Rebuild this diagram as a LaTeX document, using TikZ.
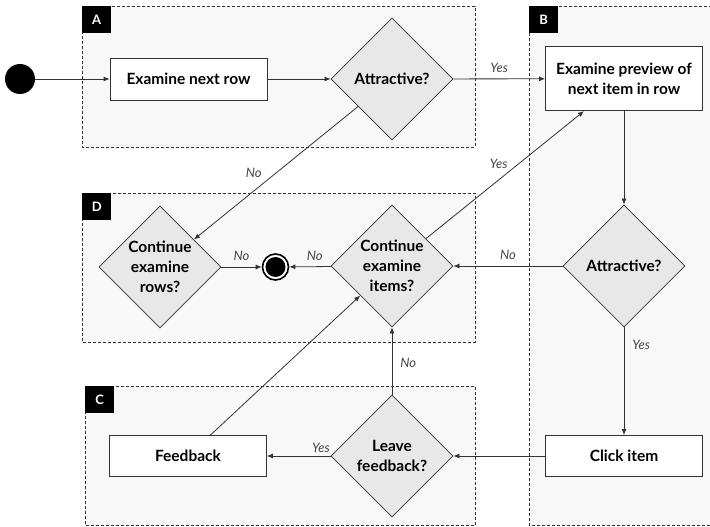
\documentclass[tikz,border=0pt]{standalone}
\usepackage{fontspec}
\setmainfont{Lato}
\usetikzlibrary{shapes.geometric,arrows.meta}
\definecolor{grpfill}{HTML}{F8F8F8}
\definecolor{diafill}{HTML}{E8E8E8}
\definecolor{linecol}{HTML}{333333}
\definecolor{lblcol}{HTML}{444444}
\tikzset{
  grp/.style={draw=linecol, dashed, dash pattern=on 3pt off 2pt, fill=grpfill, line width=0.7pt},
  tag/.style={fill=black, text=white, font=\bfseries\fontsize{13}{14}\selectfont, minimum width=29pt, minimum height=27pt, inner sep=0pt, anchor=north west},
  act/.style={draw=linecol, fill=white, line width=0.8pt, font=\bfseries\fontsize{15.5}{20}\selectfont, align=center, minimum width=157pt, inner sep=0pt},
  dia/.style={diamond, aspect=1, draw=linecol, fill=diafill, line width=0.8pt, minimum width=122pt, minimum height=122pt, inner sep=0pt},
  dtext/.style={font=\bfseries\fontsize{15.5}{20}\selectfont, align=center, inner sep=0pt},
  flow/.style={draw=linecol, line width=0.8pt, -{Latex[length=6pt,width=5pt]}},
  elab/.style={font=\itshape\fontsize{13}{14}\selectfont, text=lblcol, inner sep=0pt}
}
\begin{document}
\begin{tikzpicture}[x=1pt,y=-1pt]
\useasboundingbox (0,0) rectangle (710,527);
% groups
\draw[grp] (82,6) rectangle (475,147);
\node[tag] (tA) at (82,6) {A};
\draw[grp] (529,6) -- (712,6) -- (712,525.5) -- (529,525.5) -- cycle;
\node[tag] (tB) at (529,6) {B};
\draw[grp] (82,193) rectangle (475,342);
\node[tag] (tD) at (82,193) {D};
\draw[grp] (85,386) rectangle (475,525.5);
\node[tag] (tC) at (85,386) {C};
% nodes
\node[circle, fill=black, minimum size=30pt, inner sep=0pt] (start) at (20,79) {};
\node[act, minimum height=42pt] (exrow) at (188.5,79) {Examine next row};
\node[dia, label={[dtext]center:Attractive?}] (attrA) at (392,79) {};
\node[act, minimum height=64pt] (prev) at (624,78.7) {Examine preview of\\next item in row};
\node[dia, label={[dtext]center:Attractive?}] (attrB) at (624,266) {};
\node[act, minimum height=41pt] (click) at (624,456) {Click item};
\node[dia, label={[dtext]center:Continue\\examine\\rows?}] (rows) at (160,267) {};
\node[circle, draw=black, line width=1.6pt, fill=white, minimum size=26pt, inner sep=0pt] (end) at (275.5,267) {};
\fill[black] (end.center) circle (10pt);
\node[dia, label={[dtext]center:Continue\\examine\\items?}] (items) at (392,266) {};
\node[act, minimum height=41pt] (fb) at (188,456) {Feedback};
\node[dia, label={[dtext]center:Leave\\feedback?}] (leave) at (392,456) {};
% edges
\draw[flow] (start) -- (exrow);
\draw[flow] (exrow) -- (attrA);
\draw[flow] (attrA) -- node[elab, above=6pt, pos=0.5] {Yes} (prev);
\draw[flow] (attrA) -- node[elab, pos=0.5, left=14pt] {No} (rows);
\draw[flow] (items) -- node[elab, pos=0.46, above=11pt] {Yes} (prev);
\draw[flow] (prev) -- (attrB);
\draw[flow] (attrB) -- node[elab, above=6pt, pos=0.5] {No} (items);
\draw[flow] (attrB) -- node[elab, right=8pt, pos=0.16] {Yes} (click);
\draw[flow] (click) -- (leave);
\draw[flow] (leave) -- node[elab, right=8pt, pos=0.47] {No} (items);
\draw[flow] (leave) -- node[elab, above=3pt, pos=0.15] {Yes} (fb);
\draw[flow] (fb) -- (items);
\draw[flow] (rows) -- node[elab, above=6pt, pos=0.5] {No} (end);
\draw[flow] (items) -- node[elab, above=6pt, pos=0.39] {No} (end);
\end{tikzpicture}
\end{document}
